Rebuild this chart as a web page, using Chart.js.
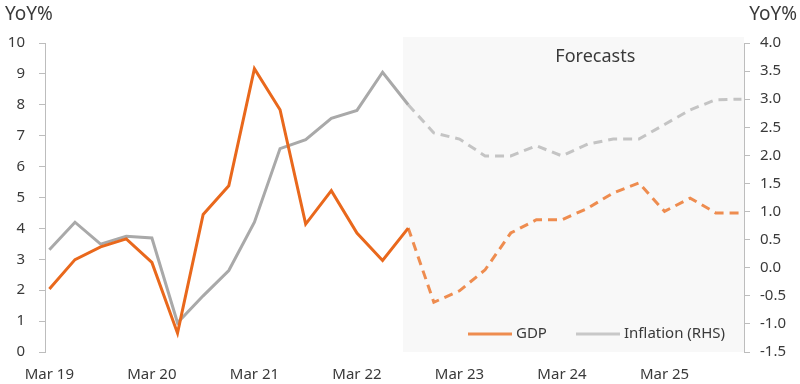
<!DOCTYPE html>
<html>
<head>
<meta charset="utf-8">
<script src="https://cdn.jsdelivr.net/npm/chart.js@4"></script>
<style>
  html, body { margin: 0; padding: 0; background: #fff; }
  #wrap { width: 800px; height: 384px; }
</style>
</head>
<body>
<div id="wrap"><canvas id="myChart"></canvas></div>
<script>
// quarters Q1 2019 .. Q4 2025
const quarters = ['Mar 19','Jun 19','Sep 19','Dec 19','Mar 20','Jun 20','Sep 20','Dec 20',
  'Mar 21','Jun 21','Sep 21','Dec 21','Mar 22','Jun 22','Sep 22','Dec 22',
  'Mar 23','Jun 23','Sep 23','Dec 23','Mar 24','Jun 24','Sep 24','Dec 24',
  'Mar 25','Jun 25','Sep 25','Dec 25'];

// GDP YoY% (left axis)
const gdpActual = [2.04, 2.99, 3.40, 3.66, 2.90, 0.61, 4.45, 5.38, 9.17, 7.84, 4.14, 5.22, 3.85, 2.96, 4.01];
const gdpForecast = [1.61, 1.98, 2.66, 3.85, 4.28, 4.28, 4.65, 5.15, 5.47, 4.55, 4.98, 4.50, 4.50];

// Inflation YoY% (right axis)
const inflActual = [0.32, 0.81, 0.42, 0.56, 0.53, -0.98, -0.50, -0.05, 0.81, 2.12, 2.28, 2.66, 2.80, 3.48, 2.90];
const inflForecast = [2.40, 2.29, 1.99, 1.99, 2.17, 1.99, 2.20, 2.29, 2.29, 2.55, 2.81, 2.99, 3.00];

const leftTicks = [0, 10, 1];
const rightTicks = [-1.5, 4.0, 0.5];
const forecastStart = 13.8;   // x value where shaded area begins
const nActual = gdpActual.length;

function pts(vals, start) {
  return vals.map((v, i) => ({ x: start + i, y: v }));
}
// forecast lines start at the last actual point
const gdpF = pts([gdpActual[nActual - 1]].concat(gdpForecast), nActual - 1);
const inflF = pts([inflActual[nActual - 1]].concat(inflForecast), nActual - 1);

const FONT = '"Noto Sans", sans-serif';
const TXT = '#3a3a3a';

const extras = {
  id: 'extras',
  beforeDatasetsDraw(chart) {
    const { ctx, chartArea, scales } = chart;
    const x0 = scales.x.getPixelForValue(forecastStart);
    ctx.save();
    ctx.fillStyle = '#f8f8f8';
    ctx.fillRect(x0, chartArea.top - 6, chartArea.right - x0, chartArea.bottom - chartArea.top + 6);
    ctx.fillStyle = TXT;
    ctx.font = '18px ' + FONT;
    ctx.textAlign = 'center';
    ctx.textBaseline = 'middle';
    ctx.fillText('Forecasts', scales.x.getPixelForValue(21.3), 57);
    ctx.restore();
  },
  afterDraw(chart) {
    const { ctx } = chart;
    ctx.save();
    ctx.fillStyle = TXT;
    ctx.font = '19px ' + FONT;
    ctx.textBaseline = 'middle';
    ctx.textAlign = 'left';
    ctx.fillText('YoY%', 5, 15);
    ctx.textAlign = 'right';
    ctx.fillText('YoY%', 797, 15);

    // legend inside plot
    const items = [
      { label: chart.data.datasets[0].label, color: '#ee8c4f', x: 468 },
      { label: chart.data.datasets[2].label, color: '#c8c8c8', x: 576 }
    ];
    ctx.font = '15px ' + FONT;
    ctx.textAlign = 'left';
    items.forEach(it => {
      ctx.strokeStyle = it.color;
      ctx.lineWidth = 3;
      ctx.beginPath();
      ctx.moveTo(it.x, 334);
      ctx.lineTo(it.x + 44, 334);
      ctx.stroke();
      ctx.fillStyle = TXT;
      ctx.fillText(it.label, it.x + 48, 334);
    });
    ctx.restore();
  }
};

new Chart(document.getElementById('myChart'), {
  type: 'line',
  data: {
    datasets: [
      { label: 'GDP', data: pts(gdpActual, 0), yAxisID: 'y', borderColor: '#e9681c', borderWidth: 3 },
      { label: 'GDP forecast', data: gdpF, yAxisID: 'y', borderColor: '#ee8c4f', borderWidth: 3, borderDash: [9, 6] },
      { label: 'Inflation (RHS)', data: pts(inflActual, 0), yAxisID: 'y1', borderColor: '#a9a9a9', borderWidth: 3 },
      { label: 'Inflation forecast', data: inflF, yAxisID: 'y1', borderColor: '#c4c4c4', borderWidth: 3, borderDash: [9, 6] }
    ]
  },
  options: {
    responsive: true,
    maintainAspectRatio: false,
    animation: false,
    elements: { point: { radius: 0 }, line: { tension: 0, borderCapStyle: 'butt', borderJoinStyle: 'miter' } },
    layout: { padding: { top: 43, left: 0, right: 0, bottom: 0 } },
    plugins: { legend: { display: false }, tooltip: { enabled: false } },
    scales: {
      x: {
        type: 'linear',
        min: -0.17,
        max: 27.1,
        afterFit(s) { s.height = 32; },
        afterBuildTicks(s) {
          s.ticks = quarters.map((q, i) => ({ value: i })).filter(t => t.value % 4 === 0);
        },
        grid: { display: false, drawTicks: false },
        border: { display: false },
        ticks: {
          autoSkip: false,
          maxRotation: 0,
          padding: 14,
          color: TXT,
          font: { family: FONT, size: 15 },
          callback: v => quarters[v]
        }
      },
      y: {
        position: 'left',
        min: leftTicks[0],
        max: leftTicks[1],
        afterFit(s) { s.width = 45; },
        grid: { drawOnChartArea: false, tickLength: 6, color: '#bdbdbd' },
        border: { color: '#bdbdbd' },
        ticks: { stepSize: leftTicks[2], padding: 14, color: TXT, font: { family: FONT, size: 15 } }
      },
      y1: {
        position: 'right',
        min: rightTicks[0],
        max: rightTicks[1],
        afterFit(s) { s.width = 56; },
        grid: { drawOnChartArea: false, tickLength: 6, color: '#bdbdbd' },
        border: { color: '#bdbdbd' },
        ticks: { stepSize: rightTicks[2], padding: 10, color: TXT, font: { family: FONT, size: 15 },
          callback: v => v.toFixed(1) }
      }
    }
  },
  plugins: [extras]
});
</script>
</body>
</html>
